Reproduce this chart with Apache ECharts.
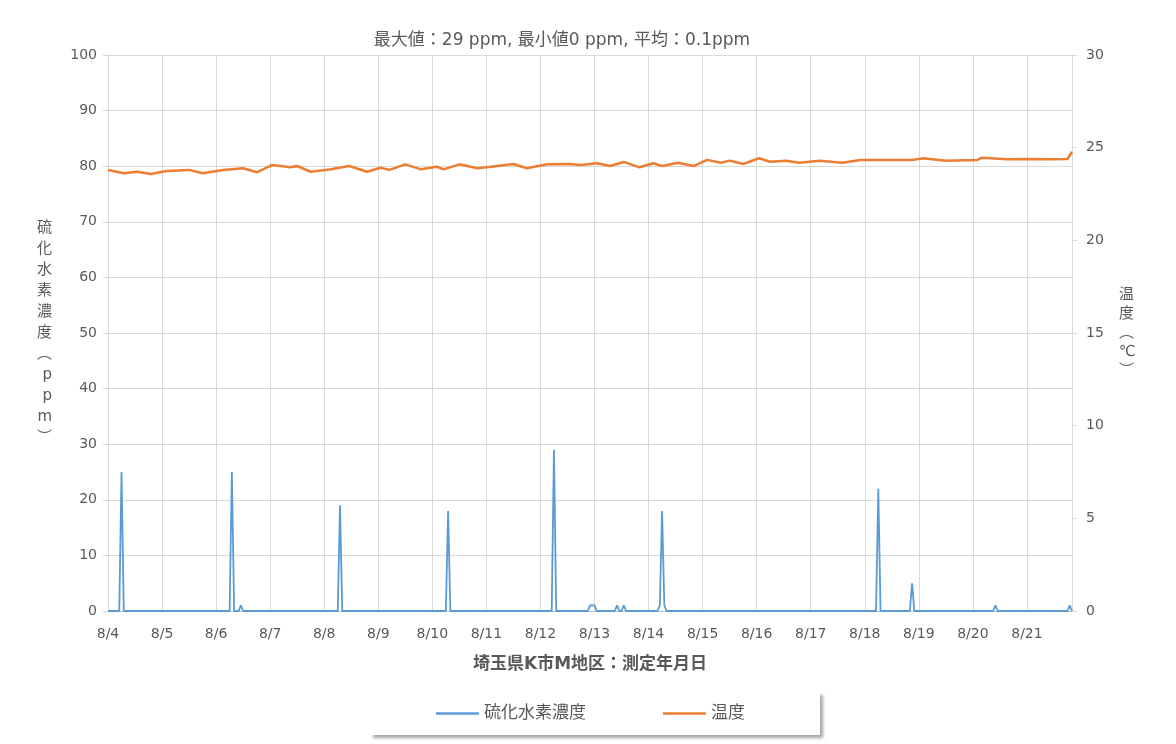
<!DOCTYPE html>
<html>
<head>
<meta charset="utf-8">
<script src="https://cdn.jsdelivr.net/npm/echarts@6/dist/echarts.min.js"></script>
<style>
html,body{margin:0;padding:0;background:#fff;}
#chart{width:1176px;height:744px;}
</style>
</head>
<body>
<div id="chart"></div>
<script>
// x axis: hours since 8/4 00:00 (hourly readings)
const dayLabels = ['8/4','8/5','8/6','8/7','8/8','8/9','8/10','8/11','8/12','8/13','8/14','8/15','8/16','8/17','8/18','8/19','8/20','8/21'];
const lastHour = 428;

// H2S concentration (ppm): hours with non-zero readings; all other hours read as 0
const h2sHours  = [6, 55, 59, 103, 151, 198, 214, 215, 216, 226, 229, 245, 246, 247, 342, 357, 394, 427];
const h2sValues = [25, 25, 1, 19, 18, 29, 1, 1, 1, 1, 1, 1, 18, 1, 22, 5, 1, 1];

// Temperature (°C) readings
const tempHours  = [0, 7, 13, 19, 26, 36, 42, 51, 60, 66, 73, 81, 84, 90, 99, 107, 115, 121, 125, 132, 139, 146, 149, 156, 164, 170, 180, 186, 195, 205, 210, 217, 223, 229, 236, 242, 246, 253, 260, 266, 272, 276, 282, 289, 294, 301, 307, 316, 326, 334, 345, 357, 362, 372, 386, 388, 399, 408, 418, 426, 428];
const tempValues = [23.80, 23.62, 23.70, 23.58, 23.74, 23.80, 23.62, 23.80, 23.89, 23.67, 24.07, 23.94, 24.01, 23.70, 23.83, 24.01, 23.70, 23.92, 23.80, 24.10, 23.83, 23.97, 23.83, 24.10, 23.89, 23.97, 24.12, 23.89, 24.10, 24.12, 24.07, 24.16, 24.01, 24.23, 23.94, 24.16, 24.01, 24.19, 24.01, 24.34, 24.19, 24.30, 24.12, 24.43, 24.24, 24.30, 24.19, 24.30, 24.19, 24.34, 24.34, 24.34, 24.43, 24.30, 24.34, 24.46, 24.37, 24.39, 24.37, 24.39, 24.78];

const titleText = '最大値：29 ppm, 最小値0 ppm, 平均：0.1ppm';
const xName = '埼玉県K市M地区：測定年月日';
const leftName = '硫化水素濃度︵ppm︶';
const rightName = '温度︵℃︶';
const seriesNames = ['硫化水素濃度', '温度'];

const h2sData = [];
for (let h = 0; h <= lastHour; h++) {
  const i = h2sHours.indexOf(h);
  h2sData.push([h, i >= 0 ? h2sValues[i] : 0]);
}
const tempData = tempHours.map((h, i) => [h, tempValues[i]]);

const FONT = '"DejaVu Sans", "Noto Sans CJK JP", sans-serif';
const grey = '#595959';

const chart = echarts.init(document.getElementById('chart'));
chart.setOption({
  animation: false,
  textStyle: { fontFamily: FONT },
  title: {
    text: titleText,
    left: 557,
    textAlign: 'center',
    top: 27,
    textStyle: { fontFamily: FONT, fontSize: 17, fontWeight: 'normal', color: grey }
  },
  grid: { left: 108, right: 104, top: 55, bottom: 133 },
  legend: {
    data: [
      { name: seriesNames[0], icon: 'rect' },
      { name: seriesNames[1], icon: 'rect' }
    ],
    left: 370,
    top: 692,
    padding: [13, 75, 13, 66],
    itemGap: 77,
    itemWidth: 43,
    itemHeight: 2.5,
    backgroundColor: '#fff',
    shadowColor: 'rgba(0,0,0,0.35)',
    shadowBlur: 3,
    shadowOffsetX: 3,
    shadowOffsetY: 3,
    textStyle: { fontFamily: FONT, fontSize: 17, color: grey }
  },
  xAxis: {
    type: 'value',
    min: 0,
    max: lastHour,
    interval: 24,
    name: xName,
    nameLocation: 'middle',
    nameGap: 45,
    nameTextStyle: { fontFamily: FONT, fontSize: 17, fontWeight: 'bold', color: grey },
    axisLine: { show: true, lineStyle: { color: '#bfbfbf' } },
    axisTick: { show: false },
    axisLabel: {
      color: grey, fontSize: 14, margin: 16,
      showMaxLabel: false,
      formatter: v => (v % 24 === 0 ? dayLabels[v / 24] : '')
    },
    splitLine: { show: true, lineStyle: { color: '#d9d9d9' } }
  },
  yAxis: [
    {
      type: 'value', min: 0, max: 100, interval: 10,
      name: leftName.split('').join('\n'),
      nameLocation: 'middle', nameRotate: 0, nameGap: 56,
      nameTextStyle: { fontFamily: FONT, fontSize: 15, lineHeight: 21, color: grey },
      axisLine: { show: true, lineStyle: { color: '#d9d9d9' } },
      axisTick: { show: true, length: 5, lineStyle: { color: '#d9d9d9' } },
      axisLabel: { color: grey, fontSize: 14, margin: 11 },
      splitLine: { show: true, lineStyle: { color: '#d9d9d9' } }
    },
    {
      type: 'value', min: 0, max: 30, interval: 5,
      name: rightName.split('').join('\n'),
      nameLocation: 'middle', nameRotate: 0, nameGap: 47,
      nameTextStyle: { fontFamily: FONT, fontSize: 15, lineHeight: 19, color: grey },
      axisLine: { show: true, lineStyle: { color: '#d9d9d9' } },
      axisTick: { show: true, length: 5, lineStyle: { color: '#d9d9d9' } },
      axisLabel: { color: grey, fontSize: 14, margin: 14 },
      splitLine: { show: false }
    }
  ],
  series: [
    {
      name: seriesNames[0], type: 'line', yAxisIndex: 0,
      data: h2sData, symbol: 'none',
      lineStyle: { color: '#5B9BD5', width: 1.8 },
      itemStyle: { color: '#5B9BD5' },
      z: 3
    },
    {
      name: seriesNames[1], type: 'line', yAxisIndex: 1,
      data: tempData, symbol: 'none',
      lineStyle: { color: '#ED7D31', width: 2.5 },
      itemStyle: { color: '#ED7D31' },
      z: 2
    }
  ]
});
</script>
</body>
</html>
